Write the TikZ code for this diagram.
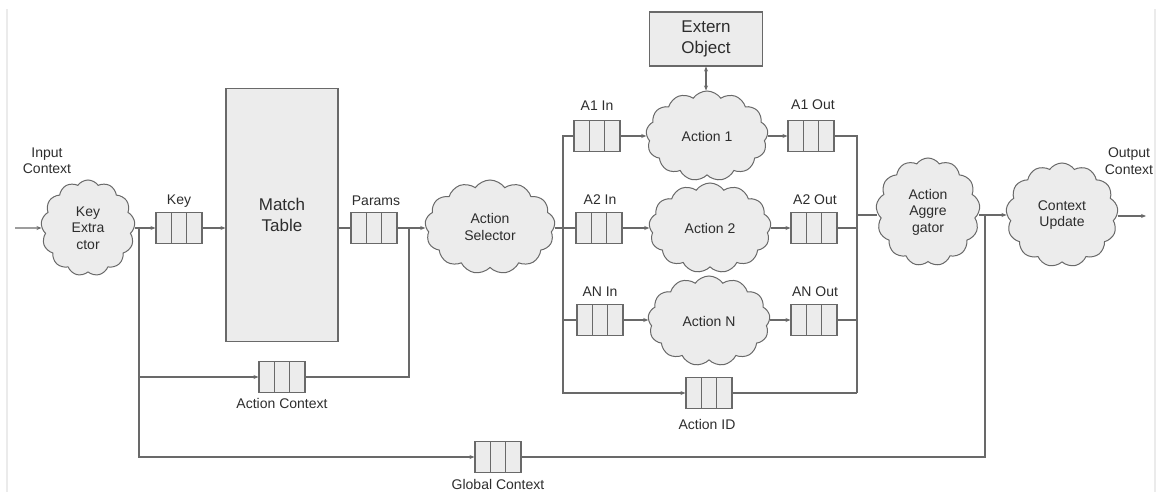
\documentclass[tikz,border=0pt]{standalone}
\usepackage{fontspec}
\setmainfont{Liberation Sans}
\usetikzlibrary{shapes.symbols,calc,arrows.meta}
\definecolor{linec}{RGB}{105,105,105}
\definecolor{fillc}{RGB}{236,236,236}
\definecolor{textc}{RGB}{45,45,45}
\definecolor{framec}{RGB}{235,235,235}
\begin{document}
\begin{tikzpicture}[x=1pt,y=-1pt,
  every node/.style={text=textc, font=\fontsize{14}{16.5}\selectfont},
  conn/.style={draw=linec, line width=1.1pt},
  arr/.style={conn, -{Stealth[length=5pt,width=4pt]}},
  darr/.style={conn, {Stealth[length=5pt,width=4pt]}-{Stealth[length=5pt,width=4pt]}},
  cloudn/.style={shape=cloud, cloud puffs=13, cloud puff arc=110, cloud ignores aspect,
    draw=linec, fill=fillc, line width=1pt, inner sep=0pt, align=center},
  queue/.style={rectangle, draw=linec, fill=fillc, line width=1.1pt, minimum width=46, minimum height=31, inner sep=0pt,
    path picture={
      \draw[linec, line width=1.1pt] ($(path picture bounding box.north west)!0.333!(path picture bounding box.north east)$) -- ($(path picture bounding box.south west)!0.333!(path picture bounding box.south east)$);
      \draw[linec, line width=1.1pt] ($(path picture bounding box.north west)!0.667!(path picture bounding box.north east)$) -- ($(path picture bounding box.south west)!0.667!(path picture bounding box.south east)$);
    }},
  box/.style={rectangle, draw=linec, fill=fillc, line width=1.1pt, inner sep=0pt, align=center, font=\fontsize{17}{21}\selectfont},
  lbl/.style={inner sep=0pt, align=center}
]
\useasboundingbox (0,0) rectangle (1156,492);
% faint frame
\draw[framec, line width=1.5pt] (7,9) -- (7,492);
\draw[framec, line width=1.5pt] (1155,9) -- (1155,492);

% nodes
\coordinate (in) at (15,228);
\node[lbl] (inl) at (47,161) {Input\\Context};
\node[cloudn, minimum width=94, minimum height=96] (ke) at (88,228) {Key\\Extra\\ctor};
\coordinate (j1) at (139,228);
\node[queue] (keyq) at (179,228) {};
\node[lbl] (keyl) at (179,201) {Key};
\node[box, minimum width=112, minimum height=253] (mt) at (282,215) {Match\\Table};
\node[queue] (pq) at (374,228) {};
\node[lbl] (pl) at (376,201) {Params};
\coordinate (j2) at (409,228);
\node[queue] (acq) at (282,377) {};
\node[lbl] (acl) at (282,403) {Action Context};
\node[queue] (gcq) at (498,457) {};
\node[lbl] (gcl) at (498,484) {Global Context};
\node[cloudn, minimum width=130, minimum height=94] (sel) at (490,227) {Action\\Selector};
\coordinate (j3) at (563,228);
\coordinate (b1) at (563,393);

\node[queue] (a1i) at (597,136) {};
\node[lbl] (a1il) at (597,106) {A1 In};
\node[queue] (a2i) at (599,228) {};
\node[lbl] (a2il) at (600,200) {A2 In};
\node[queue] (ani) at (600,320) {};
\node[lbl] (anil) at (600,292) {AN In};

\node[box, minimum width=113, minimum height=54] (ext) at (706,39) {Extern\\Object};
\node[cloudn, minimum width=122, minimum height=90] (act1) at (707,136) {Action 1};
\node[cloudn, minimum width=122, minimum height=90] (act2) at (710,228) {Action 2};
\node[cloudn, minimum width=122, minimum height=90] (actn) at (709,321) {Action N};

\node[queue] (a1o) at (811,136) {};
\node[lbl] (a1ol) at (813,105) {A1 Out};
\node[queue] (a2o) at (814,228) {};
\node[lbl] (a2ol) at (815,200) {A2 Out};
\node[queue] (ano) at (814,320) {};
\node[lbl] (anol) at (815,292) {AN Out};

\node[queue] (aid) at (709,393) {};
\node[lbl] (aidl) at (707,424) {Action ID};

\coordinate (b2) at (857,393);
\coordinate (j5) at (857,215);
\node[cloudn, minimum width=104, minimum height=108] (agg) at (928,212) {Action\\Aggre\\gator};
\coordinate (j4) at (985,215);
\node[cloudn, minimum width=112, minimum height=104] (cu) at (1062,215) {Context\\Update};
\coordinate (out) at (1146,216);
\node[lbl] (outl) at (1129,161) {Output\\Context};

% connectors
\draw[arr] (in) -- (ke.west);
\draw[conn] (ke.east |- j1) -- (j1);
\draw[arr] (j1) -- (keyq.west);
\draw[arr] (keyq.east) -- (keyq.east -| mt.west);
\draw[conn] (pq.west -| mt.east) -- (pq.west);
\draw[conn] (pq.east) -- (j2);
\draw[arr] (j2) -- (j2 -| sel.west);
\draw[arr] (j1) |- (acq.west);
\draw[conn] (acq.east) -| (j2);
\draw[arr] (j1) |- (gcq.west);
\draw[conn] (gcq.east) -| (j4);

\draw[conn] (j3 -| sel.east) -- (j3);
\draw[conn] (j3) -- (a2i.west);
\draw[arr] (a1i.west) -| (b1) -- (aid.west);
\draw[conn] (ani.west) -- (ani.west -| j3);

\draw[arr] (a1i.east) -- (a1i.east -| act1.west);
\draw[arr] (a2i.east) -- (a2i.east -| act2.west);
\draw[arr] (ani.east) -- (ani.east -| actn.west);
\draw[darr] (ext.south) -- (ext.south |- act1.north);
\draw[arr] (act1.east |- a1o.west) -- (a1o.west);
\draw[arr] (act2.east |- a2o.west) -- (a2o.west);
\draw[arr] (actn.east |- ano.west) -- (ano.west);

\draw[conn] (a1o.east) -| (b2);
\draw[conn] (a2o.east) -- (a2o.east -| b2);
\draw[conn] (ano.east) -- (ano.east -| b2);
\draw[conn] (aid.east) -- (b2);
\draw[conn] (j5) -- (j5 -| agg.west);
\draw[conn] (j4 -| agg.east) -- (j4);
\draw[arr] (j4) -- (j4 -| cu.west);
\draw[arr] (out -| cu.east) -- (out);
\end{tikzpicture}
\end{document}
